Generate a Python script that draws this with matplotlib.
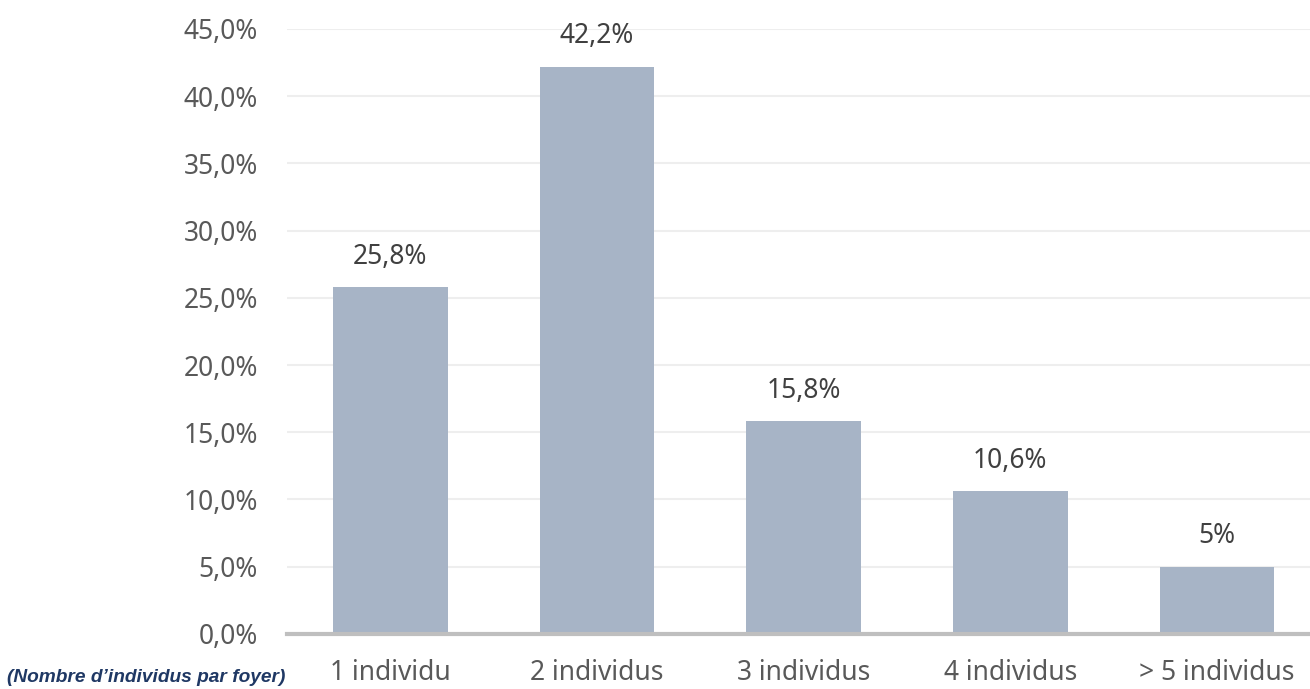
import matplotlib
matplotlib.use("Agg")
import matplotlib.pyplot as plt
from matplotlib.ticker import FuncFormatter

# household size distribution
categories = ["1 individu", "2 individus", "3 individus", "4 individus", "> 5 individus"]
values = [25.8, 42.2, 15.8, 10.6, 5.0]
labels = ["25,8%", "42,2%", "15,8%", "10,6%", "5%"]
yticks = [0, 5, 10, 15, 20, 25, 30, 35, 40, 45]

plt.rcParams['font.family'] = ['Noto Sans', 'DejaVu Sans']

fig = plt.figure(figsize=(13.1, 6.89), dpi=100)
ax = fig.add_axes([0.219, 0.080, 0.781, 0.878])

x = range(len(categories))
ax.bar(x, values, width=0.555, color="#A7B4C6", zorder=2)

for xi, v, lab in zip(x, values, labels):
    ax.text(xi, v + 1.75, lab, ha="center", va="baseline", fontsize=19, color="#404040")

ax.set_ylim(0, 45)
ax.set_xlim(-0.5, 4.45)
ax.set_yticks(yticks)
ax.yaxis.set_major_formatter(FuncFormatter(lambda v, p: f"{v:.1f}%".replace(".", ",")))
ax.set_xticks(list(x))
ax.set_xticklabels(categories)
ax.tick_params(axis="both", length=0, labelsize=19, labelcolor="#595959")
ax.tick_params(axis="y", pad=21)
ax.tick_params(axis="x", pad=18)

ax.grid(axis="y", color="#EEEEEE", linewidth=1.5, zorder=0)
for s in ["top", "right", "left"]:
    ax.spines[s].set_visible(False)
ax.spines["bottom"].set_color("#BFBFBF")
ax.spines["bottom"].set_linewidth(3)
ax.spines["bottom"].set_zorder(3)

fig.text(0.005, 0.010, "(Nombre d\u2019individus par foyer)", fontsize=13.8,
         fontweight="bold", style="italic", color="#1F3864",
         family=["Liberation Sans", "DejaVu Sans"], ha="left", va="baseline")

fig.savefig("out.png", dpi=100)
